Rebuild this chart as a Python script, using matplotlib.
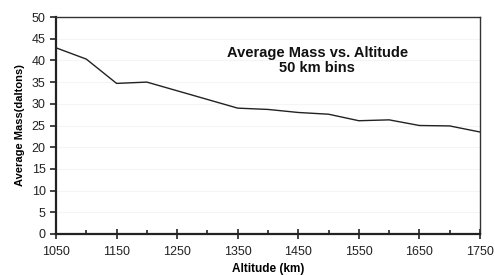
import matplotlib.pyplot as plt
import numpy as np

plt.rcParams['font.family'] = ['Liberation Sans', 'DejaVu Sans']

# Altitude bins (km) and average mass (daltons)
altitude = [1050, 1100, 1150, 1200, 1250, 1300, 1350, 1400, 1450, 1500,
            1550, 1600, 1650, 1700, 1750]
avg_mass = [42.9, 40.3, 34.7, 35.0, 33.0, 31.0, 29.0, 28.7, 28.0, 27.6,
            26.1, 26.3, 25.0, 24.9, 23.5]

fig = plt.figure(figsize=(4.95, 2.75), dpi=100)
ax = fig.add_axes([56 / 495, 1 - 234 / 275, (480 - 56) / 495, (234 - 17) / 275])

ax.plot(altitude, avg_mass, color='#222222', linewidth=1.0)

ax.set_xlim(1050, 1750)
ax.set_ylim(0, 50)
ax.set_xticks(np.arange(1050, 1751, 100))
ax.set_xticks(np.arange(1100, 1751, 100), minor=True)
ax.set_yticks(np.arange(0, 51, 5))
ax.grid(axis='y', color='#f5f5f5', linewidth=0.8)
ax.set_axisbelow(True)

ax.tick_params(axis='x', which='major', direction='inout', length=7, width=1.2,
               labelsize=9, colors='#222222', pad=5)
ax.tick_params(axis='x', which='minor', direction='in', length=3, width=1.2,
               colors='#222222')
ax.tick_params(axis='y', direction='out', length=4, width=1.2, labelsize=9,
               colors='#222222')

for side in ['left', 'bottom']:
    ax.spines[side].set_linewidth(1.6)
    ax.spines[side].set_color('#222222')
for side in ['top', 'right']:
    ax.spines[side].set_linewidth(1.0)
    ax.spines[side].set_color('#333333')

ax.set_xlabel('Altitude (km)', fontsize=8.5, fontweight='bold', labelpad=4)
ax.set_ylabel('Average Mass(daltons)', fontsize=8, fontweight='bold', labelpad=5)

ax.text(0.616, 0.80, 'Average Mass vs. Altitude\n50 km bins', transform=ax.transAxes,
        ha='center', va='center', fontsize=10.5, fontweight='bold',
        linespacing=1.15, color='#111111')

fig.savefig('out.png', dpi=100)
